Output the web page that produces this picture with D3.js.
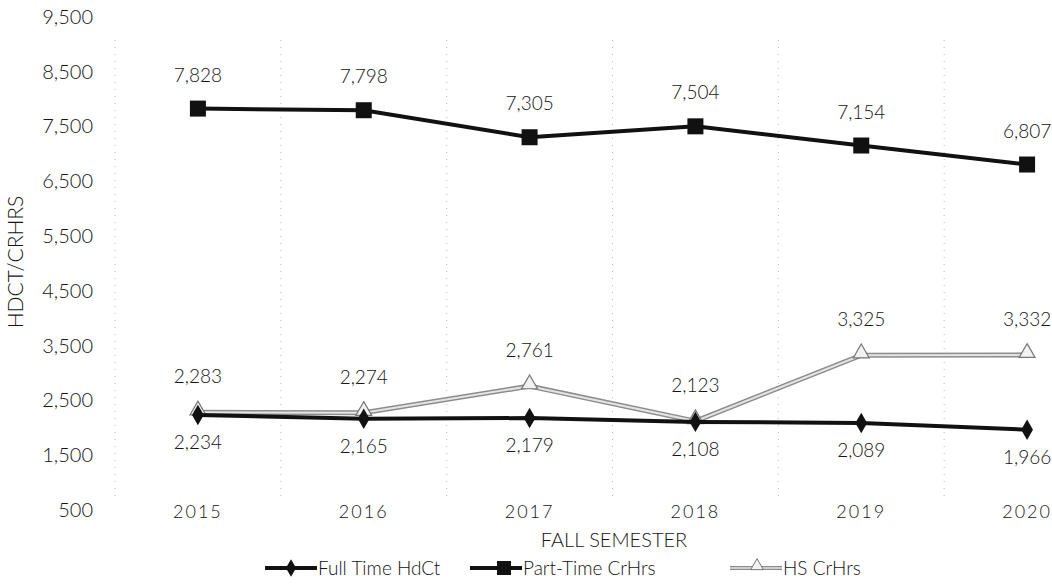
<!DOCTYPE html>
<html>
<head>
<meta charset="utf-8">
<script src="https://cdn.jsdelivr.net/npm/d3@7"></script>
<style>
  body { margin: 0; background: #fff; }
  text { font-family: Lato, "Open Sans", sans-serif; font-weight: 300; fill: #141414; }
</style>
</head>
<body>
<div id="chart"></div>
<script>
// values
var years = ['2015', '2016', '2017', '2018', '2019', '2020']
var fullTimeHdCt = [2234, 2165, 2179, 2108, 2089, 1966]
var partTimeCrHrs = [7828, 7798, 7305, 7504, 7154, 6807]
var hsCrHrs = [2283, 2274, 2761, 2123, 3325, 3332]
var yTicks = [500, 1500, 2500, 3500, 4500, 5500, 6500, 7500, 8500, 9500]

var width = 1052
var height = 586

var svg = d3.select('#chart')
  .append('svg')
    .attr('width', width)
    .attr('height', height)

var x = d3.scaleBand()
  .domain(years)
  .range([115, 1110])

var y = d3.scaleLinear()
  .domain([500, 9500])
  .range([510, 17])

var cx = function(d, i) { return x(years[i]) + x.bandwidth() / 2 }
var fmt = d3.format(',')

// dotted vertical gridlines between categories
svg.append('g')
  .selectAll('line')
  .data(years)
  .enter()
  .append('line')
    .attr('x1', function(d) { return x(d) })
    .attr('x2', function(d) { return x(d) })
    .attr('y1', 40)
    .attr('y2', 500)
    .attr('stroke', '#b8b8b8')
    .attr('stroke-width', 1)
    .attr('stroke-dasharray', '1,6')

// y axis (labels only)
var yAxis = svg.append('g')
  .attr('transform', 'translate(93,0)')
  .call(d3.axisLeft(y).tickValues(yTicks).tickFormat(fmt).tickSize(0).tickPadding(0))
yAxis.select('.domain').remove()
yAxis.selectAll('text')
  .style('font-size', '20px')
  .style('font-family', 'Lato, "Open Sans", sans-serif')
  .style('font-weight', 300)
  .attr('fill', '#141414')

// x axis labels
svg.append('g')
  .selectAll('text')
  .data(years)
  .enter()
  .append('text')
    .attr('x', function(d) { return x(d) + x.bandwidth() / 2 })
    .attr('y', 518)
    .attr('text-anchor', 'middle')
    .style('font-size', '18px')
    .style('letter-spacing', '2px')
    .text(function(d) { return d })

svg.append('text')
  .attr('x', 614)
  .attr('y', 547)
  .attr('text-anchor', 'middle')
  .style('font-size', '20px')
  .text('FALL SEMESTER')

svg.append('text')
  .attr('transform', 'translate(23,262) rotate(-90)')
  .attr('text-anchor', 'middle')
  .style('font-size', '21px')
  .text('HDCT/CRHRS')

var line = d3.line()
  .x(cx)
  .y(function(d) { return y(d) })

// HS CrHrs: light double-stroke line with open triangles
svg.append('path')
  .datum(hsCrHrs)
  .attr('d', line)
  .attr('fill', 'none')
  .attr('stroke', '#8c8c8c')
  .attr('stroke-width', 5)
svg.append('path')
  .datum(hsCrHrs)
  .attr('d', line)
  .attr('fill', 'none')
  .attr('stroke', '#e4e4e4')
  .attr('stroke-width', 2)

var tri = d3.symbol().type(d3.symbolTriangle).size(110)
svg.append('g')
  .selectAll('path')
  .data(hsCrHrs)
  .enter()
  .append('path')
    .attr('d', tri)
    .attr('transform', function(d, i) { return 'translate(' + cx(d, i) + ',' + (y(d) - 2) + ')' })
    .attr('fill', '#f2f2f2')
    .attr('stroke', '#777')
    .attr('stroke-width', 1.2)

// Full Time HdCt
svg.append('path')
  .datum(fullTimeHdCt)
  .attr('d', line)
  .attr('fill', 'none')
  .attr('stroke', '#111')
  .attr('stroke-width', 4)

var diamond = d3.symbol().type(d3.symbolDiamond).size(120)
svg.append('g')
  .selectAll('path')
  .data(fullTimeHdCt)
  .enter()
  .append('path')
    .attr('d', diamond)
    .attr('transform', function(d, i) { return 'translate(' + cx(d, i) + ',' + y(d) + ')' })
    .attr('fill', '#111')

// Part-Time CrHrs
svg.append('path')
  .datum(partTimeCrHrs)
  .attr('d', line)
  .attr('fill', 'none')
  .attr('stroke', '#111')
  .attr('stroke-width', 4)

svg.append('g')
  .selectAll('rect')
  .data(partTimeCrHrs)
  .enter()
  .append('rect')
    .attr('x', function(d, i) { return cx(d, i) - 8 })
    .attr('y', function(d) { return y(d) - 8 })
    .attr('width', 16)
    .attr('height', 16)
    .attr('fill', '#111')

// data labels
function labels(data, dy) {
  svg.append('g')
    .selectAll('text')
    .data(data)
    .enter()
    .append('text')
      .attr('x', cx)
      .attr('y', function(d) { return y(d) + dy })
      .attr('text-anchor', 'middle')
      .style('font-size', '19px')
      .text(function(d) { return fmt(d) })
}
labels(partTimeCrHrs, -27)
labels(hsCrHrs, -29)
labels(fullTimeHdCt, 34)

// legend
var legend = [
  { name: 'Full Time HdCt', x0: 265, kind: 'diamond' },
  { name: 'Part-Time CrHrs', x0: 470, kind: 'square' },
  { name: 'HS CrHrs', x0: 730, kind: 'triangle' }
]
var ly = 568
legend.forEach(function(item) {
  var g = svg.append('g')
  if (item.kind === 'triangle') {
    g.append('line').attr('x1', item.x0).attr('x2', item.x0 + 52).attr('y1', ly).attr('y2', ly)
      .attr('stroke', '#8c8c8c').attr('stroke-width', 4)
    g.append('line').attr('x1', item.x0).attr('x2', item.x0 + 52).attr('y1', ly).attr('y2', ly)
      .attr('stroke', '#e4e4e4').attr('stroke-width', 1.5)
    g.append('path').attr('d', d3.symbol().type(d3.symbolTriangle).size(70))
      .attr('transform', 'translate(' + (item.x0 + 27) + ',' + (ly - 2) + ')')
      .attr('fill', '#f2f2f2').attr('stroke', '#777').attr('stroke-width', 1)
  } else {
    g.append('line').attr('x1', item.x0).attr('x2', item.x0 + 52).attr('y1', ly).attr('y2', ly)
      .attr('stroke', '#111').attr('stroke-width', 4)
    if (item.kind === 'diamond') {
      g.append('path').attr('d', d3.symbol().type(d3.symbolDiamond).size(90))
        .attr('transform', 'translate(' + (item.x0 + 26) + ',' + ly + ')')
        .attr('fill', '#111')
    } else {
      g.append('rect').attr('x', item.x0 + 27).attr('y', ly - 7).attr('width', 14).attr('height', 14)
        .attr('fill', '#111')
    }
  }
  g.append('text')
    .attr('x', item.x0 + 53)
    .attr('y', ly + 7)
    .style('font-size', '19px')
    .text(item.name)
})
</script>
</body>
</html>
